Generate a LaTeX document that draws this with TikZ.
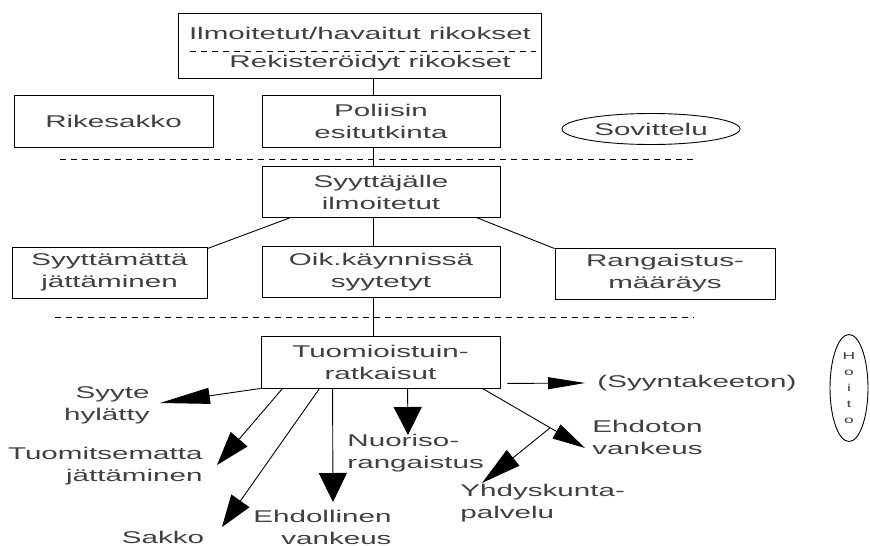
\documentclass[tikz,border=0pt]{standalone}
\usepackage{fontspec}
\setmainfont[FakeStretch=1.74]{Liberation Sans}
\usetikzlibrary{shapes,positioning,calc,arrows.meta}

\begin{document}
\begin{tikzpicture}[x=1pt,y=-1pt,line width=0.9pt,
	every node/.style={font=\fontsize{17}{22}\selectfont, text=black!75},
	box/.style={draw, rectangle, minimum height=51pt, align=center, inner sep=0pt},
	lbl/.style={align=left, inner sep=0pt},
	sep/.style={dash pattern=on 6pt off 5pt},
	bigtip/.style 2 args={-{Triangle[length=#1pt,width=#2pt]}}
]
\useasboundingbox (0,0) rectangle (870,546);

% rikokset
\node[box, minimum width=363pt, minimum height=65pt] (rik) at (359.5,45.5) {};
\node (ilm) at (360,33) {Ilmoitetut/havaitut rikokset};
\node (rek) at (370,63) {Rekisteröidyt rikokset};
\draw[sep] (190,51) -- (536,51);

% poliisi
\node[box, minimum width=199pt, minimum height=52pt] (rike) at (113.5,121) {Rikesakko};
\node[box, minimum width=238pt, minimum height=52pt] (pol) at (381,121) {Poliisin\\esitutkinta};
\node[draw, ellipse, minimum width=178pt, minimum height=31pt, inner sep=0pt] (sov) at (651,129) {Sovittelu};
\draw[sep] (60,159) -- (697,159);

% syyttaja
\node[box, minimum width=238pt] (syy) at (381,192) {Syyttäjälle\\ilmoitetut};
\node[box, minimum width=195pt] (sya) at (109.5,272.5) {Syyttämättä\\jättäminen};
\node[box, minimum width=238pt] (oik) at (381,272) {Oik.käynnissä\\syytetyt};
\node[box, minimum width=220pt] (ran) at (665,273.5) {Rangaistus-\\määräys};
\draw[sep] (55,317) -- (694,317);

% tuomioistuin
\node[box, minimum width=239pt, minimum height=52pt] (tuo) at (380.5,362) {Tuomioistuin-\\ratkaisut};
\node[draw, ellipse, minimum width=38pt, minimum height=107pt, inner sep=0pt, align=center,
	font=\fontsize{10}{16}\selectfont] (hoi) at (849,388) {H\\o\\i\\t\\o};

% ratkaisut
\node[lbl, anchor=east, align=right] (hyl) at (150,405) {Syyte\\hylätty};
\node[lbl, anchor=east, align=right] (tje) at (203,466) {Tuomitsematta\\jättäminen};
\node[lbl] (sak) at (163,537) {Sakko};
\node[lbl, anchor=east, align=right] (ehd) at (392,527) {Ehdollinen\\vankeus};
\node[lbl, anchor=west] (nuo) at (347,453) {Nuoriso-\\rangaistus};
\node[lbl, anchor=west] (syk) at (597,383) {(Syyntakeeton)};
\node[lbl, anchor=west] (eho) at (592,437) {Ehdoton\\vankeus};
\node[lbl, anchor=west] (yhd) at (460,503) {Yhdyskunta-\\palvelu};

\coordinate (hylT) at (160,403);
\coordinate (tjeT) at (217,465);
\coordinate (sakT) at (222,527);
\coordinate (ehdT) at (333,502);
\coordinate (nuoT) at (408,435);
\coordinate (sykT) at (585,383);
\coordinate (ehoT) at (585,448);
\coordinate (yhdT) at (482,483);

% links
\coordinate (spine) at (373,0);
\draw (spine |- rik.south) -- (spine |- pol.north);
\draw (spine |- pol.south) -- (spine |- syy.north);
\draw (spine |- syy.south) -- (spine |- oik.north);
\draw (spine |- oik.south) -- (spine |- tuo.north);
\draw ([xshift=28pt]syy.south west) -- ([yshift=-2pt]sya.north east);
\draw ([xshift=-23pt]syy.south east) -- ([yshift=-1pt]ran.north west);

\draw[bigtip={50}{16}] (tuo.south west) -- (hylT);
\draw[bigtip={34}{22}] ([xshift=22pt]tuo.south west) -- (tjeT);
\draw[bigtip={32}{22}] ([xshift=59pt]tuo.south west) -- (sakT);
\draw[bigtip={29}{28}] ([xshift=72pt]tuo.south west) -- (ehdT);
\draw[bigtip={28}{28}] ([xshift=147pt]tuo.south west) -- (nuoT);
\draw[bigtip={37}{12}] ([shift={(7pt,5pt)}]tuo.south east) -- (sykT);
\draw[bigtip={33}{16}] ([xshift=-18pt]tuo.south east) -- (ehoT) coordinate[pos=0.66] (yhd0);
\draw[bigtip={40}{20}] (yhd0) -- (yhdT);

\end{tikzpicture}
\end{document}
